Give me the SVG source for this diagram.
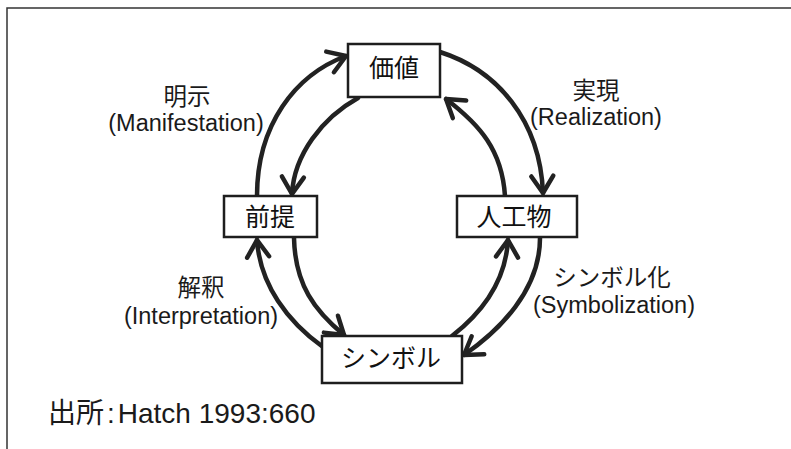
<svg xmlns="http://www.w3.org/2000/svg" width="791" height="449" viewBox="0 0 791 449">
  <defs>
    <style>
      .frame { fill: none; stroke: #333; stroke-width: 1.5; }
      .box { fill: #fff; stroke: #1e1e1e; stroke-width: 2.5; }
      .conn { fill: none; stroke: #222; stroke-width: 4.5; stroke-linecap: round; }
      .node-text { font-family: "Liberation Sans", "Noto Sans CJK JP", sans-serif; font-size: 25px; fill: #111; text-anchor: middle; }
      .label { font-family: "Liberation Sans", "Noto Sans CJK JP", sans-serif; font-size: 23.5px; fill: #1a1a1a; text-anchor: middle; }
      .note { font-family: "Liberation Sans", "Noto Sans CJK JP", sans-serif; font-size: 28px; fill: #1a1a1a; }
    </style>
    <marker id="arrow" markerUnits="userSpaceOnUse" viewBox="-22 -15 26 30" refX="0" refY="0" markerWidth="26" markerHeight="30" orient="auto">
      <path d="M-17,-11 L0,0 L-17,11" fill="none" stroke="#222" stroke-width="4.5" stroke-linecap="round" stroke-linejoin="round"/>
    </marker>
  </defs>
  <rect width="791" height="449" fill="#fff"/>
  <path class="frame" d="M7,449 V8 H791"/>

  <g id="connectors">
    <path class="conn" marker-end="url(#arrow)" d="M257,196 C257,125 295,75 346,56"/>
    <path class="conn" marker-end="url(#arrow)" d="M358,98 C322,118 294,155 292,194"/>
    <path class="conn" marker-end="url(#arrow)" d="M440,52 C497,70 540,120 543,193"/>
    <path class="conn" marker-end="url(#arrow)" d="M505,196 C502,150 480,125 446,99"/>
    <path class="conn" marker-end="url(#arrow)" d="M323,347 C288,322 260,285 257,240"/>
    <path class="conn" marker-end="url(#arrow)" d="M294,238 C295,285 315,311 344,335"/>
    <path class="conn" marker-end="url(#arrow)" d="M452,336 C488,308 506,275 508,240"/>
    <path class="conn" marker-end="url(#arrow)" d="M540,238 C540,290 500,330 464,355"/>
  </g>

  <g id="node-kachi">
    <rect class="box" x="348" y="44" width="92" height="53"/>
    <text class="node-text" x="394" y="77">価値</text>
  </g>
  <g id="node-zentei">
    <rect class="box" x="224" y="196" width="93" height="41"/>
    <text class="node-text" x="270" y="226">前提</text>
  </g>
  <g id="node-jinkobutsu">
    <rect class="box" x="457" y="196" width="120" height="41"/>
    <text class="node-text" x="514" y="226">人工物</text>
  </g>
  <g id="node-symbol">
    <rect class="box" x="322" y="336" width="140" height="47"/>
    <text class="node-text" x="391" y="367">シンボル</text>
  </g>

  <g id="labels">
    <text class="label" x="187" y="105">明示</text>
    <text class="label" x="186" y="131">(Manifestation)</text>
    <text class="label" x="596" y="99">実現</text>
    <text class="label" x="596" y="125">(Realization)</text>
    <text class="label" x="201" y="296">解釈</text>
    <text class="label" x="201" y="324">(Interpretation)</text>
    <text class="label" x="612" y="286">シンボル化</text>
    <text class="label" x="614" y="313">(Symbolization)</text>
  </g>

  <text class="note" x="48" y="423">出所<tspan dx="3">:</tspan><tspan dx="3">Hatch 1993:660</tspan></text>
</svg>
